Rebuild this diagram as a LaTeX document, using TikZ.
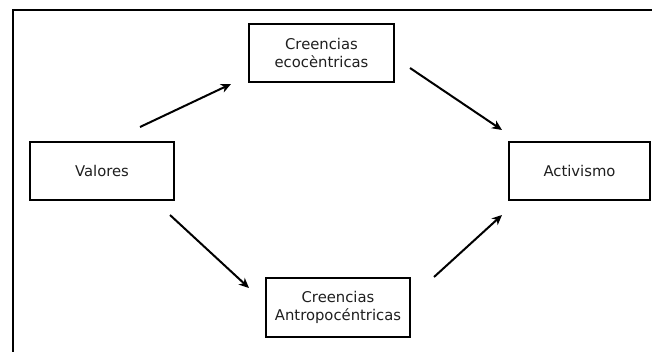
\documentclass[tikz,border=0pt]{standalone}
\usepackage{fontspec}
\setmainfont{DejaVu Sans}
\usetikzlibrary{arrows.meta}
\begin{document}
\begin{tikzpicture}[x=1pt,y=-1pt,
  box/.style={draw=black,line width=1.8pt,fill=white,inner sep=0pt,
    minimum height=58pt,align=center,text=black!88,
    font=\fontsize{14.8}{18}\selectfont},
  arr/.style={line width=2pt,-{Stealth[length=10pt,width=9pt,inset=3pt]}}]
\useasboundingbox (0,0) rectangle (652,351);
% outer frame (only top and left edges fall inside the page)
\begin{scope}
\clip (0,0) rectangle (652,351);
\draw[line width=2.4pt] (13,360) -- (13,10) -- (660,10);
\end{scope}
% boxes
\node[box,minimum width=144pt] (valores) at (102,171) {Valores};
\node[box,minimum width=145pt] (eco) at (321.5,53) {Creencias\\ecocèntricas};
\node[box,minimum width=144pt,minimum height=59pt] (antro) at (338,307.5) {Creencias\\Antropocéntricas};
\node[box,minimum width=141pt] (activ) at (579.5,171) {Activismo};
% arrow end points
\coordinate (a1s) at (140,127); \coordinate (a1e) at (231,84);
\coordinate (a2s) at (410,68);  \coordinate (a2e) at (502,130);
\coordinate (a3s) at (170,215); \coordinate (a3e) at (249,288);
\coordinate (a4s) at (434,277); \coordinate (a4e) at (502,215);
% arrows
\draw[arr] (a1s) -- (a1e);
\draw[arr] (a2s) -- (a2e);
\draw[arr] (a3s) -- (a3e);
\draw[arr] (a4s) -- (a4e);
\end{tikzpicture}
\end{document}
